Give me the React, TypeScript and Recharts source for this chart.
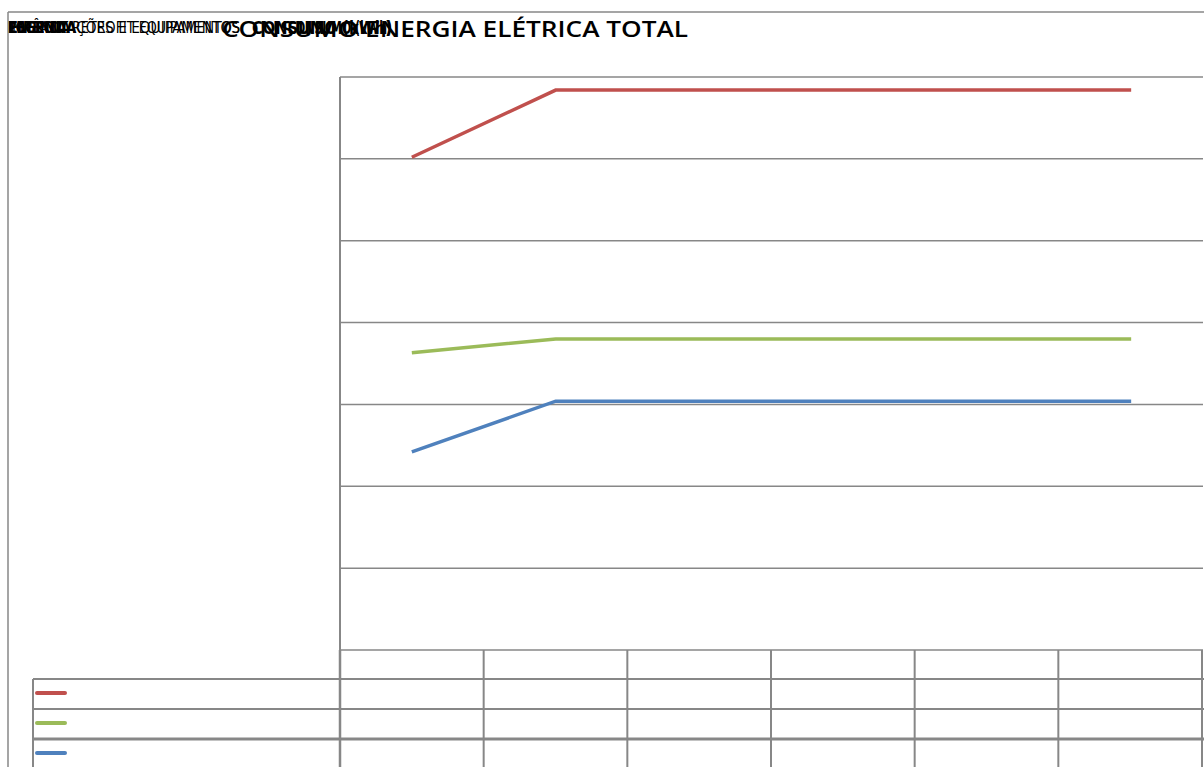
import React from 'react';
import { LineChart, Line, XAxis, YAxis, CartesianGrid } from 'recharts';

// Consumption per period (thousand kWh)
const periods = ['P1', 'P2', 'P3', 'P4', 'P5', 'P6'];
const consumoTotal = [60.2, 68.4, 68.4, 68.4, 68.4, 68.4];
const consumoForaPonta = [36.3, 38.0, 38.0, 38.0, 38.0, 38.0];
const consumoPonta = [24.2, 30.4, 30.4, 30.4, 30.4, 30.4];
const yTicks = [0, 10, 20, 30, 40, 50, 60, 70];

const series = [
  { key: 'total', values: consumoTotal, color: '#C0504D' },
  { key: 'foraPonta', values: consumoForaPonta, color: '#9BBB59' },
  { key: 'ponta', values: consumoPonta, color: '#4F81BD' },
];

const data = periods.map((p, i) => {
  const row: Record<string, string | number> = { period: p };
  series.forEach(s => { row[s.key] = s.values[i]; });
  return row;
});

const W = 1204;
const H = 767;
const PLOT_LEFT = 340;
const PLOT_TOP = 77;
const PLOT_RIGHT = 1202;
const PLOT_BOTTOM = 650;
const COL_W = (PLOT_RIGHT - PLOT_LEFT) / periods.length;
const ROW_H = 30;
const LEGEND_LEFT = 33;
const GRID = '#878787';

const NoTick = () => <g />;

const Frame: React.FC = () => {
  const rows = [PLOT_BOTTOM + 29, PLOT_BOTTOM + 29 + ROW_H, PLOT_BOTTOM + 29 + ROW_H * 2];
  return (
    <svg width={W} height={H} style={{ position: 'absolute', left: 0, top: 0, pointerEvents: 'none' }}>
      {/* outer chart frame */}
      <line x1={8} y1={12} x2={W} y2={12} stroke={GRID} strokeWidth={1.5} />
      <line x1={8} y1={12} x2={8} y2={H} stroke={GRID} strokeWidth={1.5} />

      {/* value axis line */}
      <line x1={PLOT_LEFT} y1={PLOT_TOP} x2={PLOT_LEFT} y2={PLOT_BOTTOM} stroke={GRID} strokeWidth={2} />

      {/* data table: header row + one row per series */}
      {rows.map((y, i) => (
        <line key={`r${i}`} x1={i === 0 ? PLOT_LEFT : LEGEND_LEFT} y1={y} x2={W} y2={y} stroke={GRID} strokeWidth={i === 2 ? 3 : 2} />
      ))}
      <line x1={LEGEND_LEFT} y1={rows[0]} x2={PLOT_LEFT} y2={rows[0]} stroke={GRID} strokeWidth={2} />
      <line x1={LEGEND_LEFT} y1={rows[0]} x2={LEGEND_LEFT} y2={H} stroke={GRID} strokeWidth={2} />
      {periods.map((_, i) => (
        <line
          key={`c${i}`}
          x1={PLOT_LEFT + COL_W * i}
          y1={PLOT_BOTTOM}
          x2={PLOT_LEFT + COL_W * i}
          y2={H}
          stroke={GRID}
          strokeWidth={i === 0 ? 2.5 : 2}
        />
      ))}
      <line x1={PLOT_RIGHT} y1={PLOT_BOTTOM} x2={PLOT_RIGHT} y2={H} stroke={GRID} strokeWidth={2} />

      {/* legend keys */}
      {series.map((s, i) => (
        <line
          key={s.key}
          x1={37}
          x2={65}
          y1={rows[i] + 14}
          y2={rows[i] + 14}
          stroke={s.color}
          strokeWidth={4}
          strokeLinecap="round"
        />
      ))}

      {/* stacked headings */}
      <g fontFamily="'Liberation Sans Narrow', 'DejaVu Sans Condensed', sans-serif" fill="#000">
        <text x={8} y={33} fontSize={15} fontWeight="bold" textLength={68} lengthAdjust="spacingAndGlyphs">LEGENDA</text>
        <text x={8} y={33} fontSize={15} fontWeight="bold" textLength={62} lengthAdjust="spacingAndGlyphs">POTÊNCIA</text>
        <text x={10} y={33} fontSize={15} fontWeight="bold" textLength={56} lengthAdjust="spacingAndGlyphs">ENERGIA</text>
        <text x={8} y={33} fontSize={15} textLength={232} lengthAdjust="spacingAndGlyphs">IMPLANTAÇÕES E EQUIPAMENTOS</text>
        <text x={72} y={33} fontSize={15} textLength={168} lengthAdjust="spacingAndGlyphs">RETROFIT EQUIPAMENTOS</text>
        <text x={252} y={34} fontSize={17} fontWeight="bold" textLength={140} lengthAdjust="spacingAndGlyphs">CONSUMO (kWh)</text>
        <text x={288} y={34} fontSize={17} fontWeight="bold" textLength={104} lengthAdjust="spacingAndGlyphs">CONSUMO (kWh)</text>
      </g>
      <text
        x={222}
        y={37}
        fontSize={21}
        fontWeight={600}
        fontFamily="'Open Sans', 'Noto Sans', sans-serif"
        fill="#000"
        textLength={466}
        lengthAdjust="spacingAndGlyphs"
      >
        CONSUMO ENERGIA ELÉTRICA TOTAL
      </text>
    </svg>
  );
};

const App: React.FC = () => {
  return (
    <div style={{ position: 'absolute', left: 0, top: 0, width: W, height: H, background: '#fff', overflow: 'hidden' }}>
      <LineChart
        width={W}
        height={H}
        data={data}
        margin={{ top: PLOT_TOP, right: W - PLOT_RIGHT - 1, left: PLOT_LEFT - 40, bottom: H - PLOT_BOTTOM }}
      >
        <CartesianGrid vertical={false} stroke={GRID} strokeWidth={1.5} />
        <XAxis
          dataKey="period"
          padding={{ left: COL_W / 2, right: COL_W / 2 }}
          axisLine={false}
          tickLine={false}
          tick={NoTick}
          height={0}
        />
        <YAxis
          domain={[0, 70]}
          ticks={yTicks}
          width={40}
          tick={NoTick}
          tickLine={false}
          axisLine={false}
        />
        {series.map(s => (
          <Line
            key={s.key}
            dataKey={s.key}
            type="linear"
            stroke={s.color}
            strokeWidth={3.5}
            dot={false}
            activeDot={false}
            isAnimationActive={false}
          />
        ))}
      </LineChart>
      <Frame />
    </div>
  );
};

export default App;
